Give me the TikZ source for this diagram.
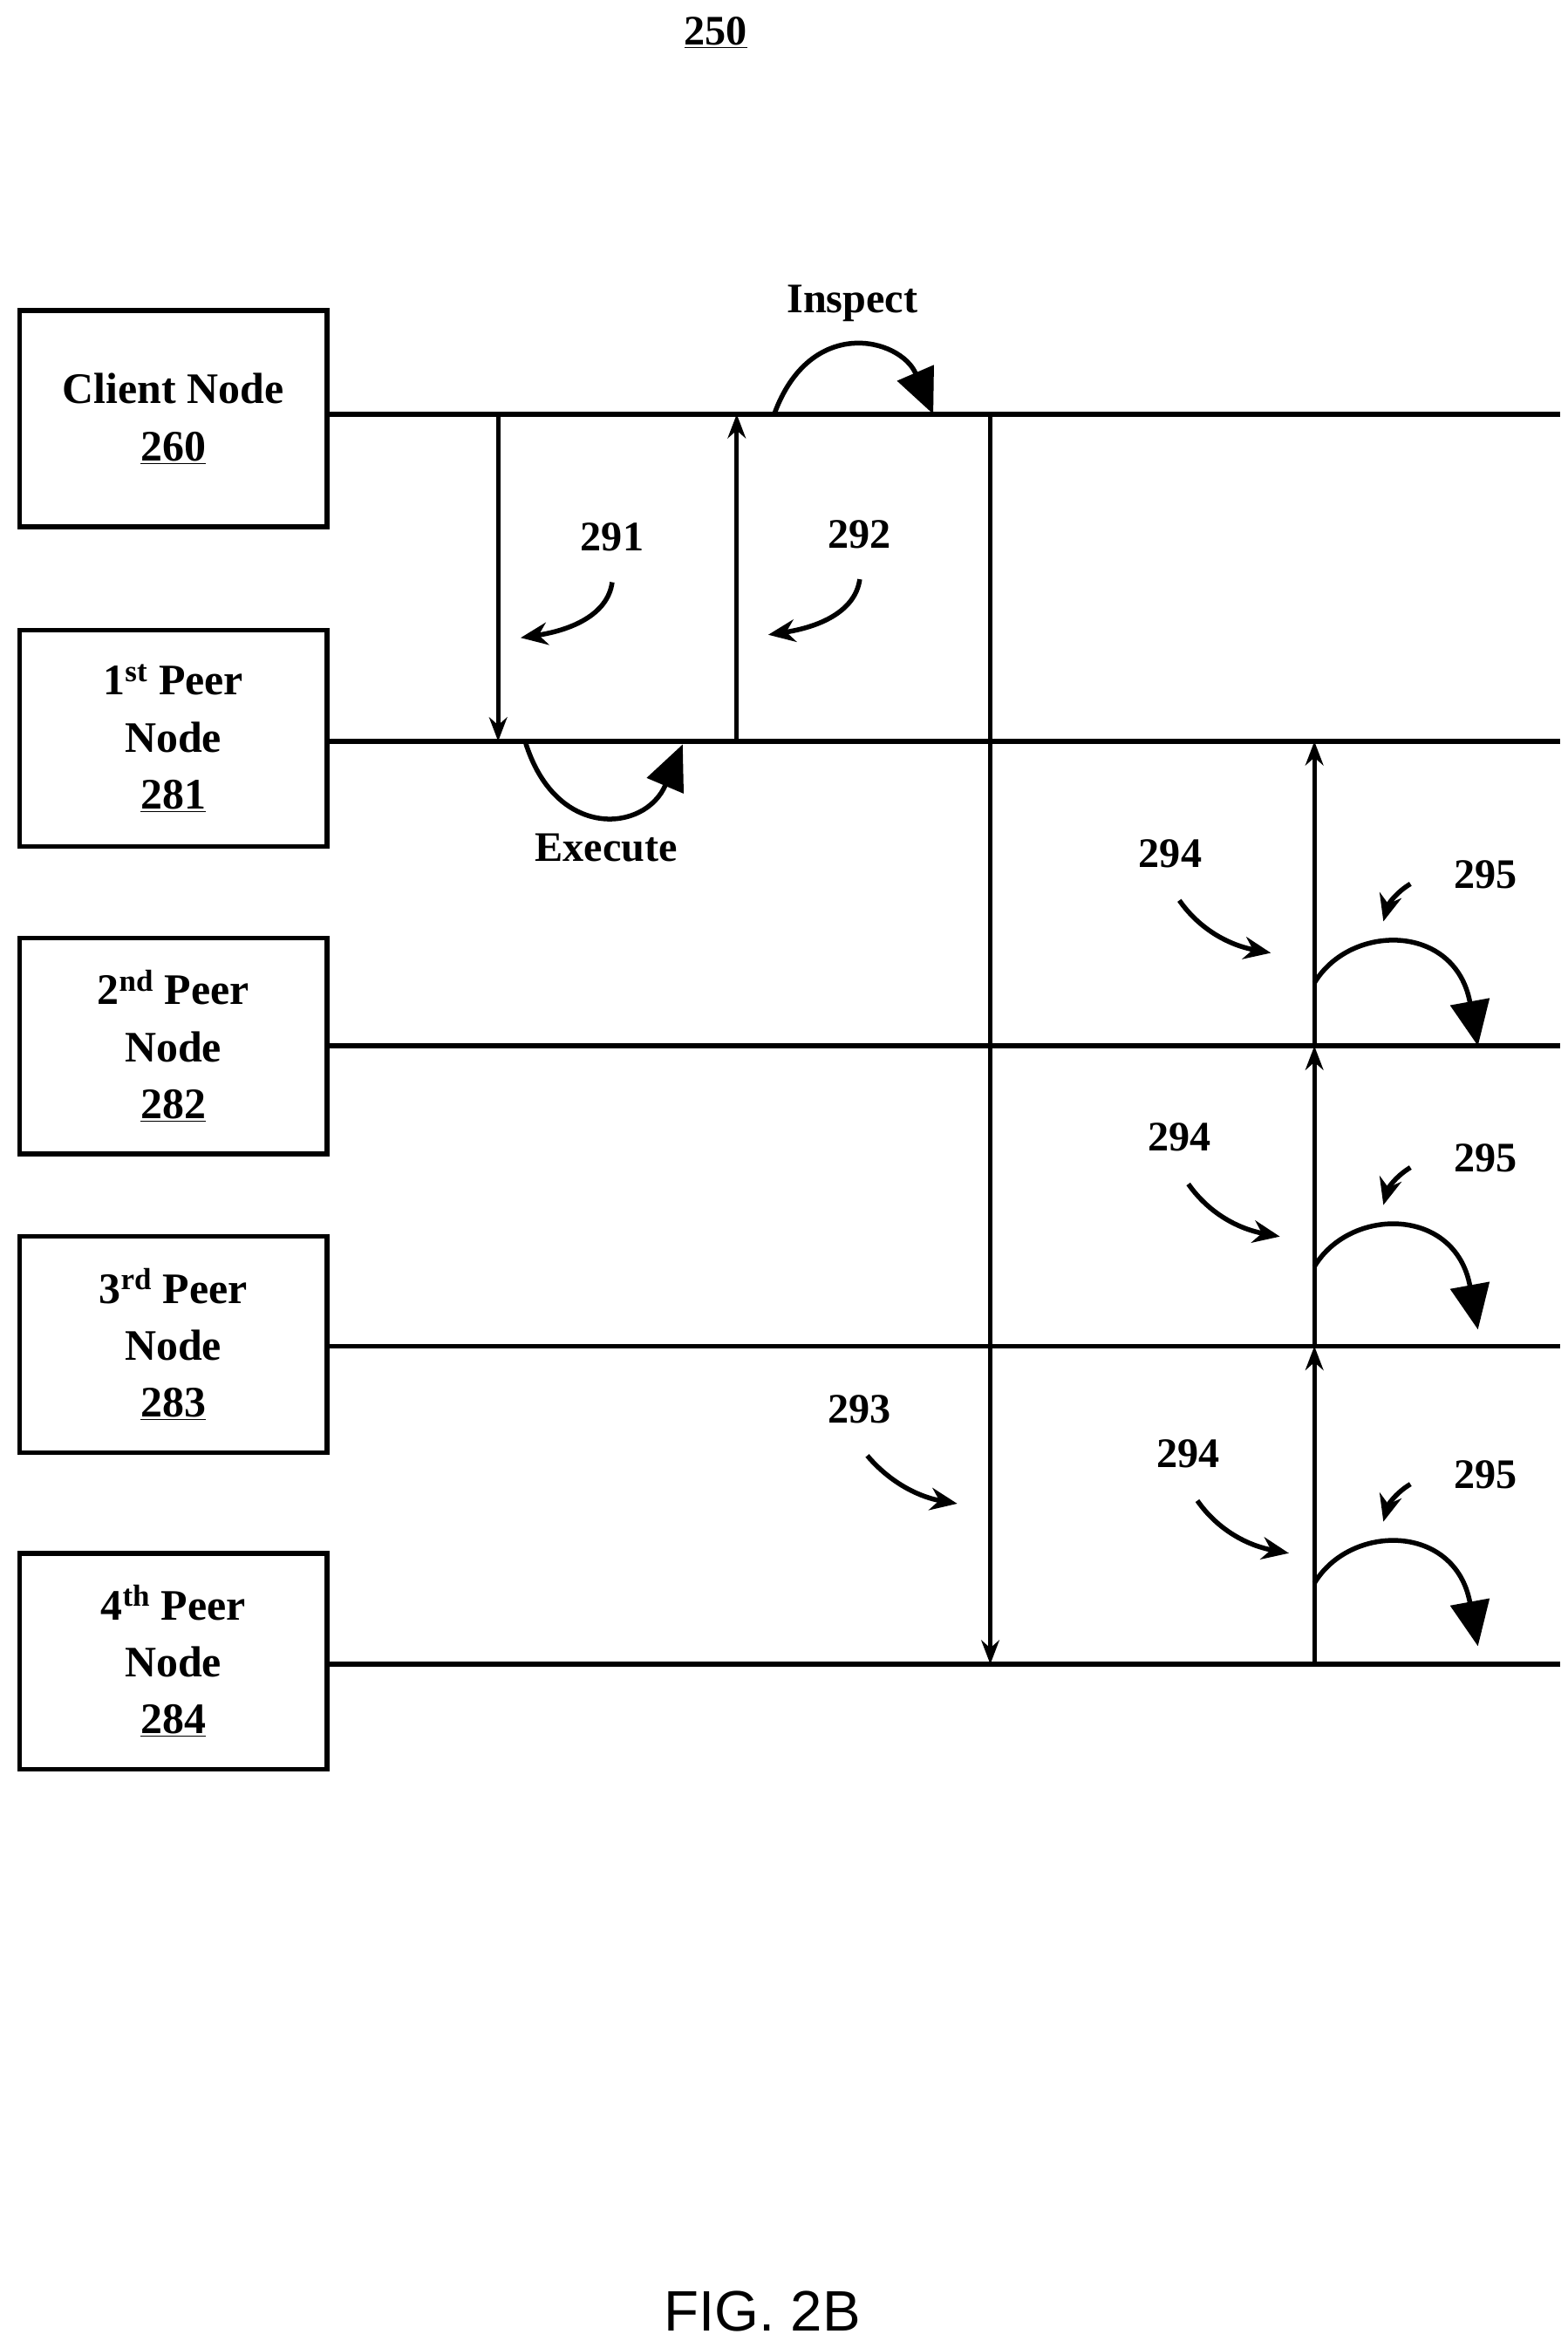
\documentclass[tikz,border=0pt]{standalone}
\usepackage{fontspec}
\setmainfont{Liberation Serif}
\setsansfont{Liberation Sans}
\usetikzlibrary{arrows.meta,positioning}
\tikzset{
  box/.style={draw, line width=3.2pt, minimum width=205pt, minimum height=144pt, align=center, font=\fontsize{29}{38}\selectfont\bfseries},
  wire/.style={line width=3.2pt},
  msg/.style={line width=3pt, -{Stealth[length=16pt,width=12pt]}},
  loop/.style={line width=3.2pt, -{Triangle[length=30pt,width=26pt]}},
  hint/.style={line width=3.2pt, -{Stealth[length=18pt,width=15pt]}},
  num/.style={font=\fontsize{28}{30}\selectfont\bfseries}
}
\begin{document}
\begin{tikzpicture}[x=1pt,y=-1pt]
        \useasboundingbox (0,0) rectangle (1045,1560);
        \node[num] at (477,22) (title){\underline{250}};

        \node[box] at (115.5,279)(client){Client Node\\\underline{260}};
        \node[box] at (115.5,492)(peer1){1\textsuperscript{st} Peer\\Node\\\underline{281}};
        \node[box] at (115.5,697)(peer2){2\textsuperscript{nd} Peer\\Node\\\underline{282}};
        \node[box] at (115.5,896)(peer3){3\textsuperscript{rd} Peer\\Node\\\underline{283}};
        \node[box] at (115.5,1107)(peer4){4\textsuperscript{th} Peer\\Node\\\underline{284}};

        % time lines
        \coordinate (c0) at (218,276);  \coordinate (c1) at (1040,276);
        \coordinate (p10) at (218,494); \coordinate (p11) at (1040,494);
        \coordinate (p20) at (218,697); \coordinate (p21) at (1040,697);
        \coordinate (p30) at (218,897); \coordinate (p31) at (1040,897);
        \coordinate (p40) at (218,1109);\coordinate (p41) at (1040,1109);
        \draw[wire] (c0) -- (c1);
        \draw[wire] (p10) -- (p11);
        \draw[wire] (p20) -- (p21);
        \draw[wire] (p30) -- (p31);
        \draw[wire] (p40) -- (p41);

        % messages
        \draw[msg] (332,276) -- (332,494);
        \draw[msg] (491,494) -- (491,276);
        \draw[msg] (660,276) -- (660,1109);
        \draw[msg] (876,1109) -- (876,897);
        \draw[msg] (876,897) -- (876,697);
        \draw[msg] (876,697) -- (876,494);

        % inspect and execute
        \draw[loop] (516,276) .. controls (540,210) and (600,225) .. (622,276);
        \node[num] at (568,202) (inspect){Inspect};
        \draw[loop] (350,494) .. controls (370,560) and (430,555) .. (455,496);
        \node[num] at (404,565) (execute){Execute};

        % labels 291 292
        \node[num] at (408,358) (l291){291};
        \draw[hint] (408,388) .. controls (405,410) and (380,420) .. (347,425);
        \node[num] at (573,356) (l292){292};
        \draw[hint] (573,386) .. controls (570,408) and (545,418) .. (512,423);
        \node[num] at (573,939) (l293){293};
        \draw[hint] (578,970) .. controls (595,990) and (615,998) .. (638,1002);

        % repeated 294 / 295
        \foreach \y/\d in {0/0, 189/6, 400/12} {
          \node[num] at (780+\d,569+\y) {294};
          \draw[hint] (786+\d,600+\y) .. controls (800+\d,620+\y) and (820+\d,630+\y) .. (847+\d,635+\y);
          \node[num] at (990,583+\y) {295};
          \draw[hint] (940,589+\y) .. controls (930,595+\y) and (925,603+\y) .. (922,614+\y);
          \draw[loop] (876,655+\y) .. controls (900,615+\y) and (970,615+\y) .. (985,697+\y);
        }

        \node[font=\fontsize{38}{40}\sffamily] at (508,1540) (fig){FIG. 2B};
    \end{tikzpicture}
\end{document}
